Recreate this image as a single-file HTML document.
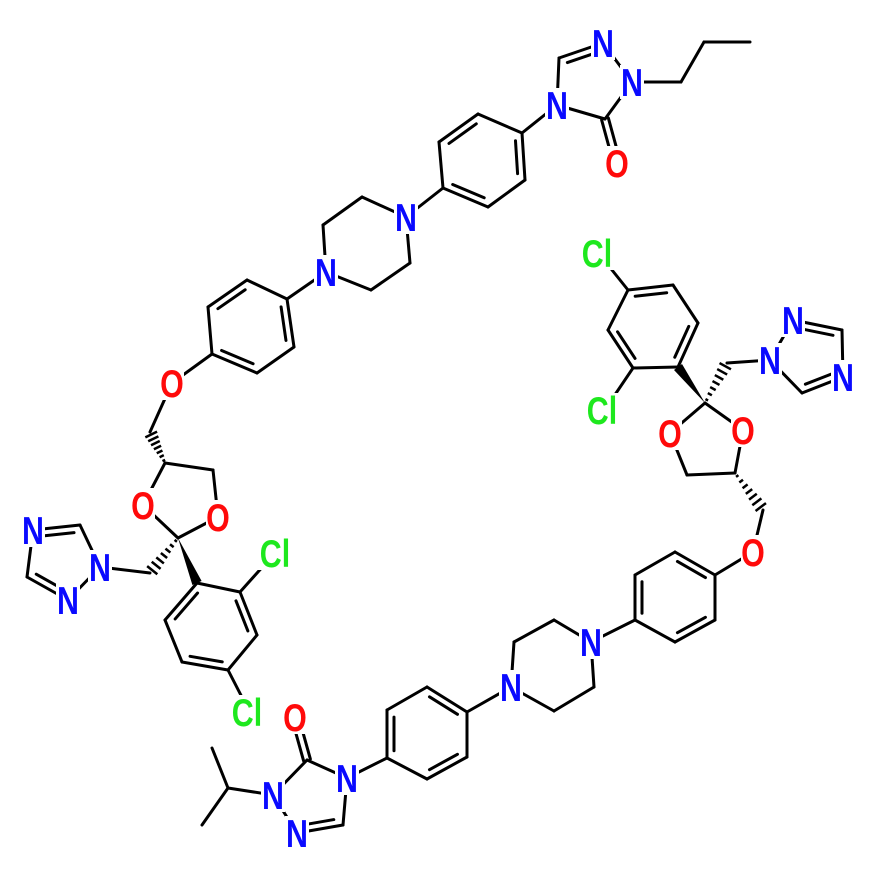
<!DOCTYPE html>
<html><head><meta charset="utf-8"><style>
html,body{margin:0;padding:0;background:#fff;width:894px;height:880px;overflow:hidden}
svg{display:block}
text{font-family:"Liberation Sans",sans-serif;font-weight:bold;font-size:39px;text-anchor:middle;dominant-baseline:central}
</style></head><body>
<svg id="s" width="894" height="880" viewBox="0 0 894 880" xmlns="http://www.w3.org/2000/svg"></svg>
<script>
const S=document.getElementById('s');let out='';
function L(a,b){out+=`<line x1="${a[0]}" y1="${a[1]}" x2="${b[0]}" y2="${b[1]}" stroke="#000" stroke-width="3" stroke-linecap="round"/>`;}
function inner(a,b,c){
 const mx=(a[0]+b[0])/2,my=(a[1]+b[1])/2;let dx=c[0]-mx,dy=c[1]-my;const d=Math.hypot(dx,dy);dx/=d;dy/=d;
 const o=7,sh=0.15;const p=[a[0]+(b[0]-a[0])*sh+dx*o,a[1]+(b[1]-a[1])*sh+dy*o],q=[b[0]+(a[0]-b[0])*sh+dx*o,b[1]+(a[1]-b[1])*sh+dy*o];L(p,q);}
function ring(v,inn){for(let i=0;i<v.length;i++)L(v[i],v[(i+1)%v.length]);const c=[v.reduce((s,p)=>s+p[0],0)/v.length,v.reduce((s,p)=>s+p[1],0)/v.length];inn.forEach(i=>inner(v[i],v[(i+1)%v.length],c));}
function hash(a,b){const n=7;const dx=b[0]-a[0],dy=b[1]-a[1],len=Math.hypot(dx,dy);const px=-dy/len,py=dx/len;
 for(let i=0;i<n;i++){const t=0.08+i*(0.84/(n-1));const w=1+t*6;const x=a[0]+dx*t,y=a[1]+dy*t;
 out+=`<line x1="${x-px*w}" y1="${y-py*w}" x2="${x+px*w}" y2="${y+py*w}" stroke="#000" stroke-width="2.5"/>`;}}
function wedge(a,b){const dx=b[0]-a[0],dy=b[1]-a[1],len=Math.hypot(dx,dy);const px=-dy/len*5,py=dx/len*5;
 out+=`<polygon points="${a[0]},${a[1]} ${b[0]+px},${b[1]+py} ${b[0]-px},${b[1]-py}" fill="#000"/>`;}
function dblpar(a,b,o){const dx=b[0]-a[0],dy=b[1]-a[1],len=Math.hypot(dx,dy);const px=-dy/len*o,py=dx/len*o;L([a[0]+px,a[1]+py],[b[0]+px,b[1]+py]);L([a[0]-px,a[1]-py],[b[0]-px,b[1]-py]);}
const labels=[];
function T(t,p,col){labels.push([t,p,col]);}
const N='#0a0aff',O='#ff0a0a',C='#1ee81e';

const tN4=[557,105],tCH=[559,58],tN=[603,43],tN1=[632,82],tC=[605,119],tO=[617,163];
L(tN4,tCH);L(tCH,tN);inner(tCH,tN,[590,85]);L(tN,tN1);L(tN1,tC);L(tC,tN4);dblpar(tC,tO,3.5);
L(tN1,[681,82]);L([681,82],[704,42]);L([704,42],[750,42]);
T('N',tN4,N);T('N',tN,N);T('N',tN1,N);T('O',tO,O);
const p1=[[522,133],[478,114],[439,142],[443,188],[488,207],[525,180]];ring(p1,[1,3,5]);L(p1[0],tN4);
const pzN1=[406,217],pzN2=[326,272];
L(p1[3],pzN1);L(pzN1,[362,197]);L([362,197],[323,225]);L([323,225],pzN2);L(pzN2,[371,290]);L([371,290],[410,263]);L([410,263],pzN1);
T('N',pzN1,N);T('N',pzN2,N);
const p2=[[287,299],[247,280],[208,307],[212,354],[257,373],[294,347]];ring(p2,[1,3,5]);L(pzN2,p2[0]);
const O1=[172,383];L(p2[3],O1);L(O1,[150,432]);T('O',O1,O);
const lCH=[165,463],lCH2=[213,470],lOr=[218,517],lC2=[178,538],lOl=[143,505];
hash(lCH,[150,432]);L(lCH,lCH2);L(lCH2,lOr);L(lOr,lC2);L(lC2,lOl);L(lOl,lCH);
T('O',lOr,O);T('O',lOl,O);
hash(lC2,[150,573]);L([150,573],[100,567]);
const ltN1=[100,567],ltCH=[80,525],ltN=[33,530],ltCH2=[27,577],ltNb=[68,600];
ring([ltN1,ltCH,ltN,ltCH2,ltNb],[1,3]);
T('N',ltN1,N);T('N',ltN,N);T('N',ltNb,N);
const lp=[[197,583],[240,592],[257,635],[228,670],[182,662],[165,620]];wedge(lC2,lp[0]);ring(lp,[1,3,5]);
L(lp[1],[275,553]);L(lp[3],[247,707]);T('Cl',[275,553],C);T('Cl',[247,712],C);
const bO=[295,717],bC=[307,760],bN4=[347,778],bN1=[273,795],bN=[297,833],bCH=[343,825];
dblpar(bC,bO,3.5);L(bC,bN4);L(bN4,bCH);L(bCH,bN);inner(bCH,bN,[310,800]);L(bN,bN1);L(bN1,bC);
L(bN1,[228,788]);L([228,788],[212,748]);L([228,788],[202,825]);
T('O',bO,O);T('N',bN4,N);T('N',bN1,N);T('N',bN,N);
const p3=[[387,758],[387,710],[427,687],[467,712],[467,757],[427,779]];ring(p3,[0,2,4]);L(bN4,p3[0]);
const qNl=[511,687],qNr=[591,642];
L(p3[3],qNl);L(qNl,[514,642]);L([514,642],[554,620]);L([554,620],qNr);L(qNr,[594,687]);L([594,687],[554,711]);L([554,711],qNl);
T('N',qNl,N);T('N',qNr,N);
const p4=[[635,620],[635,575],[675,552],[715,575],[715,620],[675,642]];ring(p4,[0,2,4]);L(qNr,p4[0]);
const O2=[753,552];L(p4[3],O2);L(O2,[763,510]);T('O',O2,O);
const rCH=[735,473],rCH2=[687,475],rOl=[670,433],rC2=[705,403],rOr=[743,430];
hash(rCH,[763,510]);L(rCH,rCH2);L(rCH2,rOl);L(rOl,rC2);L(rC2,rOr);L(rOr,rCH);
T('O',rOl,O);T('O',rOr,O);
hash(rC2,[727,363]);L([727,363],[770,360]);
const rtN1=[770,360],rtN=[793,320],rtCH=[842,330],rtNb=[843,377],rtCH2=[802,393];
ring([rtN1,rtN,rtCH,rtNb,rtCH2],[1,3]);
T('N',rtN1,N);T('N',rtN,N);T('N',rtNb,N);
const rp=[[678,367],[633,368],[608,330],[628,290],[673,285],[698,323]];wedge(rC2,rp[0]);ring(rp,[1,3,5]);
L(rp[3],[600,255]);L(rp[1],[606,408]);T('Cl',[597,253],C);T('Cl',[602,410],C);

labels.forEach(([t,p,col])=>{const w=t.length>1?36:24;
 out+=`<rect x="${p[0]-w/2}" y="${p[1]-17}" width="${w}" height="34" fill="#fff"/>`;
 out+=`<text transform="translate(${p[0]},${p[1]+1}) scale(0.78,1)" fill="${col}">${t}</text>`;});
S.innerHTML=out;
</script>
</body></html>
